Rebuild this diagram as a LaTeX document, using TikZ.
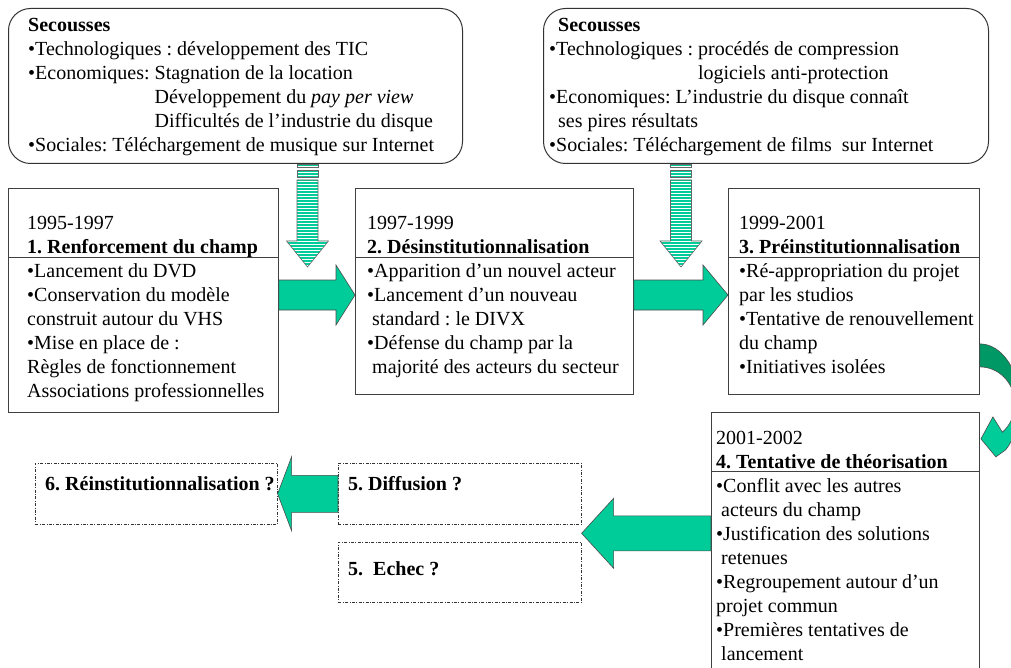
\documentclass[tikz,border=0pt]{standalone}
\usepackage{fontspec}
\setmainfont{Liberation Serif}
\frenchspacing
\usetikzlibrary{positioning, calc}
\definecolor{ArrowGreen}{RGB}{0, 204, 153}
\definecolor{ArrowDark}{RGB}{0, 153, 102}
\newcommand{\hblock}[5]{%
  \filldraw[blockarrow] let \p1=(#1), \p2=(#2) in
    (\x1,{\y2+#3}) -- ({\x2-(#5)},{\y2+#3}) -- ({\x2-(#5)},{\y2+#4})
    -- (\x2,\y2) -- ({\x2-(#5)},{\y2-#4}) -- ({\x2-(#5)},{\y2-#3})
    -- (\x1,{\y2-#3}) -- cycle;}

\begin{document}
\begin{tikzpicture}[x=1pt, y=-1pt,
    txt/.style={font=\fontsize{20}{24}\selectfont},
    shock/.style={draw=black!80, line width=1pt, rounded corners=22pt,
                  inner sep=0pt, anchor=north west},
    frame/.style={draw=black!75, line width=0.9pt, inner sep=0pt, anchor=north west},
    phasetext/.style={txt, align=left, inner sep=0pt},
    dashbox/.style={draw=black!80, line width=0.6pt,
                    dash pattern=on 3pt off 1.5pt on 0.8pt off 1.5pt,
                    inner sep=0pt, anchor=north west},
    blockarrow/.style={fill=ArrowGreen, draw=black!70, line width=0.6pt},
    stripeline/.style={draw=black!60, line width=0.6pt}]
  \clip (0,0) rectangle (1011,668);

  % secousses
  \node[shock, minimum width=454pt, minimum height=155pt] (shock1) at (8,8) {};
  \node[phasetext, below right=6.2pt and 20pt of shock1.north west] (s1)
    {\strut\textbf{Secousses}\\
     •Technologiques : développement des TIC\\
     •Economiques: Stagnation de la location\\
     \phantom{•Economiques: }Développement du \textit{pay per view}\\
     \phantom{•Economiques: }Difficultés de l’industrie du disque\\
     •Sociales: Téléchargement de musique sur Internet};
  \node[shock, minimum width=445pt, minimum height=155pt] (shock2) at (543,8) {};
  \node[phasetext, below right=6.2pt and 6pt of shock2.north west] (s2)
    {\strut\hspace*{9pt}\textbf{Secousses}\\
     •Technologiques : procédés de compression\\
     \phantom{•Technologiques : }logiciels anti-protection\\
     •Economiques: L’industrie du disque connaît\\
     \hspace*{9pt}ses pires résultats\\
     •Sociales: Téléchargement de films\ \ sur Internet};

  % phases
  \node[frame, minimum width=270pt, minimum height=224pt] (f1) at (8,188) {};
  \node[phasetext, below right=24.2pt and 19pt of f1.north west] (t1)
    {\strut 1995-1997\\
     \textbf{1. Renforcement du champ}\\
     •Lancement du DVD\\
     •Conservation du modèle\\
     construit autour du VHS\\
     •Mise en place de :\\
     Règles de fonctionnement\\
     Associations professionnelles};
  \node[frame, minimum width=278pt, minimum height=206pt] (f2) at (355,188) {};
  \node[phasetext, below right=24.2pt and 12pt of f2.north west] (t2)
    {\strut 1997-1999\\
     \textbf{2. Désinstitutionnalisation}\\
     •Apparition d’un nouvel acteur\\
     •Lancement d’un nouveau\\
     \hspace*{5pt}standard : le DIVX\\
     •Défense du champ par la\\
     \hspace*{5pt}majorité des acteurs du secteur};
  \node[frame, minimum width=251pt, minimum height=206pt] (f3) at (728,188) {};
  \node[phasetext, below right=24.2pt and 11pt of f3.north west] (t3)
    {\strut 1999-2001\\
     \textbf{3. Préinstitutionnalisation}\\
     •Ré-appropriation du projet\\
     par les studios\\
     •Tentative de renouvellement\\
     du champ\\
     •Initiatives isolées};
  \node[frame, minimum width=268pt, minimum height=300pt] (f4) at (711,412) {};
  \node[phasetext, below right=15.2pt and 5pt of f4.north west] (t4)
    {\strut 2001-2002\\
     \textbf{4. Tentative de théorisation}\\
     •Conflit avec les autres\\
     \hspace*{5pt}acteurs du champ\\
     •Justification des solutions\\
     \hspace*{5pt}retenues\\
     •Regroupement autour d’un\\
     projet commun\\
     •Premières tentatives de\\
     \hspace*{5pt}lancement};
  \foreach \f/\d in {f1/69, f2/69, f3/69, f4/59}
    \draw[black!75, line width=0.9pt] ($(\f.north west)+(0,\d)$) -- ($(\f.north east)+(0,\d)$);

  % issues
  \node[dashbox, minimum width=242pt, minimum height=61pt] (r6) at (35,463) {};
  \node[dashbox, minimum width=243pt, minimum height=61pt] (d5) at (338,463) {};
  \node[dashbox, minimum width=243pt, minimum height=60pt] (e5) at (338,542) {};
  \node[txt, inner sep=0pt, anchor=base west] (r6t) at ($(r6.north west)+(10,27)$)
    {\textbf{6. Réinstitutionnalisation ?}};
  \node[txt, inner sep=0pt, anchor=base west] (d5t) at ($(d5.north west)+(10,27)$)
    {\textbf{5. Diffusion ?}};
  \node[txt, inner sep=0pt, anchor=base west] (e5t) at ($(e5.north west)+(10,33)$)
    {\textbf{5.\ \ Echec ?}};

  % fleches
  \coordinate (a12) at ($(f1.north east)+(0,107)$);
  \coordinate (a23) at ($(f2.north east)+(0,107)$);
  \coordinate (tip4) at ($(d5.south east)!0.5!(e5.north east)$);
  \hblock{a12}{f2.west |- a12}{15pt}{30pt}{19pt}
  \hblock{a23}{f3.west |- a23}{15pt}{30pt}{25pt}
  \hblock{f4.west |- tip4}{tip4}{17.5pt}{35pt}{-32pt}
  \hblock{d5.west}{r6.east}{18.5pt}{37pt}{-14pt}

  % secousses -> champ, fleches rayees
  \coordinate (v1) at (307.5,266);
  \coordinate (v2) at (681,265);
  \foreach \v/\s in {v1/shock1, v2/shock2} {
    \begin{scope}[shift={(\v |- \s.south)}]
      \begin{scope}
        \clip (-10.5,0) rectangle (10.5,3) (-10.5,6) rectangle (10.5,13)
          (-10.5,16) -- (10.5,16) -- (10.5,77) -- (21,77)
          -- (0,103) -- (-21,77) -- (-10.5,77) -- cycle;
        \foreach \y in {0,3,...,102}
          \fill[ArrowGreen] (-21,\y) rectangle (21,\y+1.6);
      \end{scope}
      \draw[stripeline] (-10.5,0) rectangle (10.5,3);
      \draw[stripeline] (-10.5,6) rectangle (10.5,13);
      \draw[stripeline] (-10.5,16) -- (10.5,16) -- (10.5,77) -- (21,77)
        -- (0,103) -- (-21,77) -- (-10.5,77) -- cycle;
    \end{scope}
  }

  \begin{scope}[shift={(f3.south east)}]
    \filldraw[blockarrow, fill=ArrowDark] (0,-51)
      arc[start angle=-90, end angle=-5, x radius=40, y radius=60]
      -- (34.87,5.78) arc[start angle=-5, end angle=-90, x radius=35, y radius=37] -- cycle;
    \filldraw[blockarrow] (39.85,3.77)
      arc[start angle=-5, end angle=50, x radius=40, y radius=60]
      -- (16,62) -- (1,44) -- (13,22) -- (22.5,37.3)
      arc[start angle=50, end angle=-5, x radius=35, y radius=37] -- cycle;
  \end{scope}
\end{tikzpicture}
\end{document}
